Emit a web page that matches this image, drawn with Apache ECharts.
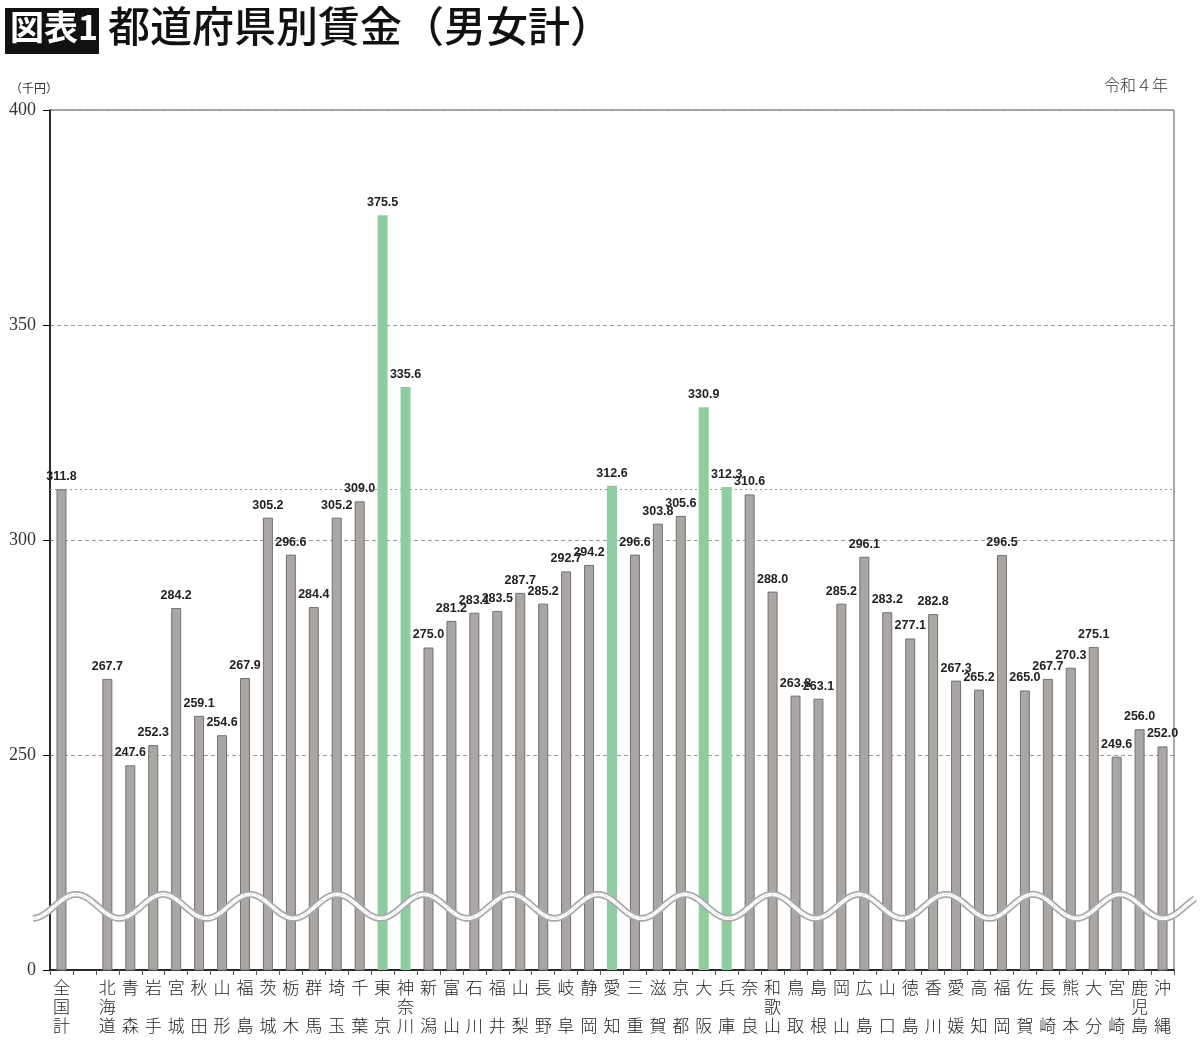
<!DOCTYPE html>
<html>
<head>
<meta charset="utf-8">
<script src="https://cdn.jsdelivr.net/npm/echarts@6/dist/echarts.min.js"></script>
<style>
html,body{margin:0;padding:0;background:#fff;}
#chart{width:1200px;height:1044px;}
</style>
</head>
<body>
<div id="chart"></div>
<script>
const categories = ['全国計','','北海道','青森','岩手','宮城','秋田','山形','福島','茨城','栃木','群馬','埼玉','千葉','東京','神奈川','新潟','富山','石川','福井','山梨','長野','岐阜','静岡','愛知','三重','滋賀','京都','大阪','兵庫','奈良','和歌山','鳥取','島根','岡山','広島','山口','徳島','香川','愛媛','高知','福岡','佐賀','長崎','熊本','大分','宮崎','鹿児島','沖縄'];
const wages = [311.8,null,267.7,247.6,252.3,284.2,259.1,254.6,267.9,305.2,296.6,284.4,305.2,309.0,375.5,335.6,275.0,281.2,283.1,283.5,287.7,285.2,292.7,294.2,312.6,296.6,303.8,305.6,330.9,312.3,310.6,288.0,263.8,263.1,285.2,296.1,283.2,277.1,282.8,267.3,265.2,296.5,265.0,267.7,270.3,275.1,249.6,256.0,252.0];
const highlighted = ['東京','神奈川','愛知','大阪','兵庫'];
const nationalAverage = 311.8;
const yTicks = [200, 250, 300, 350, 400];
const yTickLabels = ['0', '250', '300', '350', '400'];

const chart = echarts.init(document.getElementById('chart'));
const GRID = {left: 50, right: 26, top: 110, bottom: 74};

const barData = wages.map((v, i) => ({
  value: v,
  itemStyle: highlighted.includes(categories[i])
    ? {color: '#8fcc9f', borderColor: '#8fcc9f', borderWidth: 0}
    : {color: '#aaa6a4', borderColor: '#747070', borderWidth: 1}
}));

const headerGraphics = [
  {type: 'rect', id: 'tagBox', left: 5, top: 8, shape: {width: 94, height: 46}, style: {fill: '#111'}},
  {type: 'text', id: 'tagText', left: 10, top: 10, style: {text: '図表1', fill: '#fff', font: 'bold 34px "Noto Sans CJK JP"'}},
  {type: 'text', id: 'title', left: 108, top: 5, style: {text: '都道府県別賃金（男女計）', fill: '#111', font: '500 42px "Noto Sans CJK JP"'}},
  {type: 'text', id: 'unit', left: 10, top: 82, style: {text: '（千円）', fill: '#333', font: '12px "Noto Sans CJK JP"'}},
  {type: 'text', id: 'year', right: 32, top: 77, style: {text: '令和４年', fill: '#333', font: '300 16px "Noto Sans CJK JP"'}}
];

chart.setOption({
  animation: false,
  backgroundColor: '#fff',
  grid: Object.assign({show: true, borderColor: '#555', borderWidth: 1, backgroundColor: 'transparent'}, GRID),
  xAxis: {
    type: 'category',
    data: categories,
    axisLine: {lineStyle: {color: '#000', width: 1.5}},
    axisTick: {show: true, length: 5, lineStyle: {color: '#555'}},
    axisLabel: {
      interval: 0,
      margin: 8,
      fontFamily: 'Noto Sans CJK JP',
      fontWeight: 300,
      fontSize: 17,
      lineHeight: 19,
      color: '#222',
      verticalAlign: 'top',
      formatter: n => {
        const c = Array.from(n);
        if (c.length === 2) return c[0] + '\n\n' + c[1];
        return c.join('\n');
      }
    }
  },
  yAxis: {
    type: 'value',
    min: 200, max: 400, interval: 50,
    axisLine: {show: true, lineStyle: {color: '#000', width: 1.5}},
    axisTick: {show: true, length: 7, lineStyle: {color: '#000'}},
    axisLabel: {
      margin: 14,
      fontFamily: 'Liberation Serif',
      fontSize: 18,
      color: '#333',
      formatter: v => yTickLabels[yTicks.indexOf(v)] ?? ''
    },
    splitLine: {show: true, lineStyle: {color: '#999', type: [4, 3], width: 1}}
  },
  series: [{
    type: 'bar',
    data: barData,
    barWidth: 10,
    z: 2,
    label: {
      show: true,
      position: 'top',
      distance: 6,
      fontFamily: 'Liberation Sans',
      fontWeight: 'bold',
      fontSize: 12.5,
      color: '#222',
      formatter: p => (p.value == null ? '' : Number(p.value).toFixed(1))
    },
    markLine: {
      z: 1,
      silent: true,
      symbol: 'none',
      label: {show: false},
      lineStyle: {color: '#999', type: [2, 3], width: 1},
      data: [{yAxis: nationalAverage}]
    }
  }],
  graphic: headerGraphics
});

// decorative break-line (wavy) across the compressed axis section
function drawWave() {
  const cy = chart.convertToPixel({yAxisIndex: 0}, 214.8);
  const amp = 12, period = 87, peak0 = 76;
  const pts = [];
  for (let x = 33; x <= 1195; x += 2) {
    pts.push([x, cy - amp * Math.cos(2 * Math.PI * (x - peak0) / period)]);
  }
  chart.setOption({
    graphic: headerGraphics.concat([
      {type: 'polyline', id: 'waveOuter', z: 50, shape: {points: pts}, style: {stroke: '#aaaaaa', lineWidth: 7, fill: null}},
      {type: 'polyline', id: 'waveInner', z: 51, shape: {points: pts}, style: {stroke: '#fff', lineWidth: 3.5, fill: null}},
      {type: 'polyline', id: 'waveDash', z: 52, shape: {points: pts}, style: {stroke: '#dcdcdc', lineWidth: 1, lineDash: [4, 3], fill: null}}
    ])
  });
}
drawWave();
</script>
</body>
</html>
